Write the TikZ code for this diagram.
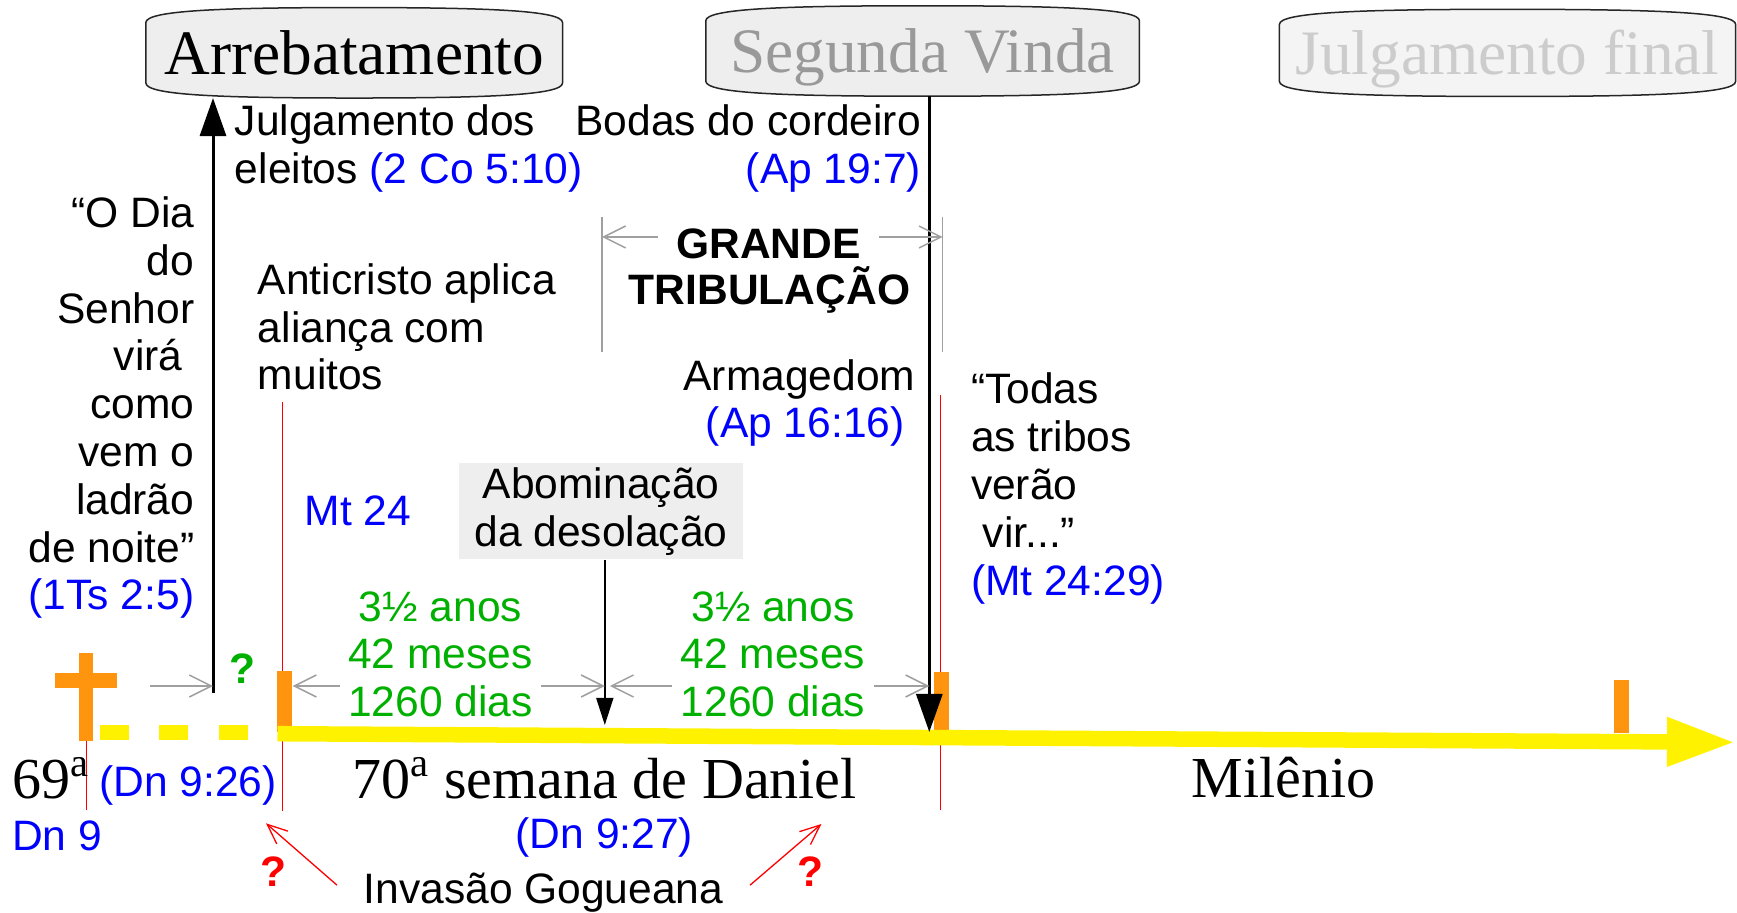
\documentclass[tikz,border=0pt]{standalone}
\usepackage{fontspec}
\setmainfont{Liberation Serif}
\setsansfont{Liberation Sans}
\usepackage{tikz}
\usetikzlibrary{arrows.meta, positioning, calc, backgrounds}

\definecolor{refblue}{RGB}{0,0,255}
\definecolor{spangreen}{RGB}{0,176,0}
\definecolor{tickorange}{RGB}{255,149,14}
\definecolor{boxfill}{RGB}{238,238,238}
\definecolor{finalfill}{RGB}{244,244,244}
\definecolor{vindagray}{RGB}{153,153,153}
\definecolor{finalgray}{RGB}{204,204,204}
\definecolor{dimgray}{RGB}{160,160,160}

\begin{document}
\begin{tikzpicture}[
    x=0.01cm, y=-0.01cm,
    event/.style={rectangle, inner sep=0pt, minimum height=0.89cm, text height=0.437cm, text depth=0pt, font=\rmfamily\fontsize{18}{20}\selectfont},
    evline/.style={draw=black!85, line width=0.015cm},
    note/.style={inner sep=0pt, font=\sffamily\fontsize{12.1}{13.6}\selectfont},
    bold/.style={note, font=\sffamily\bfseries\fontsize{12.1}{13.6}\selectfont},
    ref/.style={note, text=refblue},
    span/.style={note, inner xsep=0.08cm, text=spangreen, align=center, anchor=base},
    serif/.style={inner sep=0pt, anchor=base west, font=\rmfamily\fontsize{16.5}{18}\selectfont},
    tick/.style={rectangle, fill=tickorange, inner sep=0pt, minimum width=0.15cm},
    dim/.style={draw=dimgray, line width=0.015cm, -{Straight Barb[length=0.22cm, width=0.22cm]}},
    bigarrow/.style={draw=black, line width=0.03cm, -{Triangle[length=0.38cm, width=0.26cm]}},
    redline/.style={draw=red, line width=0.013cm},
    redarrow/.style={redline, -{Straight Barb[length=0.2cm, width=0.17cm]}}
]
    \useasboundingbox (0,0) rectangle (1737,913);

    % Events (top)
    \node (arreb) [event, minimum width=4.15cm] at (354.2,52.8) {Arrebatamento};
    \node (vinda) [event, minimum width=4.32cm, text=vindagray] at (922.6,51) {Segunda Vinda};
    \node (final) [event, minimum width=4.545cm, minimum height=0.857cm, text=finalgray] at (1507.5,52.9) {Julgamento final};

    \begin{scope}[on background layer]
    \foreach \b/\f in {arreb/boxfill, vinda/boxfill, final/finalfill}
        \draw[evline, fill=\f] ($(\b.north west)+(0,15)$)
            .. controls ($(\b.north west)+(0,3)$) and ($(\b.north west)!0.35!(\b.north)$) .. (\b.north)
            .. controls ($(\b.north east)!0.35!(\b.north)$) and ($(\b.north east)+(0,3)$) .. ($(\b.north east)+(0,15)$)
            -- ($(\b.south east)+(0,-15)$)
            .. controls ($(\b.south east)+(0,-3)$) and ($(\b.south east)!0.35!(\b.south)$) .. (\b.south)
            .. controls ($(\b.south west)!0.35!(\b.south)$) and ($(\b.south west)+(0,-3)$) .. ($(\b.south west)+(0,-15)$)
            -- cycle;
    \end{scope}

    % Red markers
    \foreach \x/\t/\e in {86.5/740/810, 282.8/402/811, 940.8/395/810}
        \draw[redline] (\x,\t) -- (\x,\e);

    % Timeline
    \node (cross) [tick, minimum width=0.143cm, minimum height=0.88cm] at (86.2,696.7) {};
    \node (crossbar) [tick, minimum width=0.623cm, minimum height=0.144cm] at (86.2,680.5) {};
    \node (t70) [tick, minimum height=0.61cm] at (284.5,701.5) {};
    \node (tsv) [tick, minimum height=0.58cm] at (941.75,701) {};
    \node (tend) [tick, minimum height=0.53cm] at (1621.5,706.5) {};

    \draw[yellow, line width=0.15cm, dash pattern=on 0.293cm off 0.302cm] (99.5,732.5) -- (248,732.5);
    \draw[yellow, line width=0.155cm, -{Triangle[length=0.69cm, width=0.45cm]}] (277.5,733.7) -- (1736,742.3);

    \coordinate (rapt) at (213,693);
    \coordinate (sv) at (929.3,732);
    \coordinate (mid) at (604.8,725);
    \coordinate (dimy) at (150,686);

    \draw[bigarrow] (rapt) -- (rapt |- arreb.south);
    \draw[bigarrow] (sv |- vinda.south) -- (sv);

    % Texts (base = last line)
    \node (dia) [note, align=right, anchor=base east] at (195,610) {“O Dia\\do\\Senhor\\virá\kern0.28em\\como\\vem o\\ladrão\\de noite”\\\textcolor{refblue}{(1Ts 2:5)}};
    \node (julg) [note, align=left, anchor=base west] at (234.2,183.3) {Julgamento dos\\eleitos \textcolor{refblue}{(2 Co 5:10)}};
    \node (bodas) [note, align=right, anchor=base east] at (921.6,183.3) {Bodas do cordeiro\\\textcolor{refblue}{(Ap 19:7)}};
    \node (anti) [note, align=left, anchor=base west] at (257.2,390) {Anticristo aplica\\aliança com\\muitos};
    \node (grande) [bold, inner xsep=0.18cm, anchor=base] at (768.5,258.3) {GRANDE};
    \node (tribul) [bold, anchor=base] at (769.5,305) {TRIBULAÇÃO};
    \node (arma) [note, align=right, anchor=base east] at (916,438) {Armagedom\\\textcolor{refblue}{(Ap 16:16)}\kern0.25em};
    \node (todas) [note, align=left, anchor=base west] at (970.3,595) {“Todas\\as tribos\\verão\\\kern0.28em vir...”\\\textcolor{refblue}{(Mt 24:29)}};
    \node (mt) [ref, anchor=base west] at (304.2,526) {Mt 24};
    \node (abom) [note, align=center, fill=boxfill, minimum width=2.838cm, minimum height=0.96cm] at (601.1,511.3) {Abominação\\da desolação};

    \node (span1) [span] at (440.5,716.7) {3½ anos\\42 meses\\1260 dias};
    \node (span2) [span] at (773,716.7) {3½ anos\\42 meses\\1260 dias};
    \node (qgreen) [bold, text=spangreen, anchor=base] at (242,683) {?};

    \node (s69) [serif] at (11.5,798.3) {69\textsuperscript{a}};
    \node (dn926) [ref, anchor=base west] at (98.7,796.7) {(Dn 9:26)};
    \node (dn9) [ref, anchor=base west] at (11.5,850) {Dn 9};
    \node (daniel) [serif] at (351.3,798.3) {70\textsuperscript{a} semana de Daniel};
    \node (dn927) [ref, anchor=base west] at (515,848.3) {(Dn 9:27)};
    \node (mil) [serif] at (1191.2,797.3) {Milênio};

    \node (gog) [note, anchor=base west, inner xsep=0.26cm] at (337,903) {Invasão Gogueana};
    \node (qred1) [bold, text=red, anchor=base] at (273,886.7) {?};
    \node (qred2) [bold, text=red, anchor=base] at (810,886.7) {?};

    % Arrows
    \draw[draw=black, line width=0.015cm, -{Triangle[length=0.27cm, width=0.17cm]}] (abom.south -| mid) -- (mid);

    \draw[dim] (dimy) -- (dimy -| rapt);
    \draw[dim] (span1.west |- dimy) -- (t70.east |- dimy);
    \draw[dim] (span1.east |- dimy) -- (mid |- dimy);
    \draw[dim, shorten >=0.05cm] (span2.west |- dimy) -- (mid |- dimy);
    \draw[dim] (span2.east |- dimy) -- (sv |- dimy);

    \coordinate (gtl) at (602,237);
    \coordinate (gtr) at (942.7,237);
    \draw[dim] (gtl -| grande.west) -- (gtl);
    \draw[dim] (gtr -| grande.east) -- (gtr);
    \draw[dimgray, line width=0.015cm] ($(gtl)+(0,-20)$) -- ($(gtl)+(0,115)$);
    \draw[dimgray, line width=0.015cm] ($(gtr)+(0,-20)$) -- ($(gtr)+(0,115)$);

    \coordinate (inv1) at (266,823.3);
    \coordinate (inv2) at (821.4,824);
    \draw[redarrow] ([yshift=0.07cm]gog.west) -- (inv1);
    \draw[redarrow] ([yshift=0.07cm]gog.east) -- (inv2);

\end{tikzpicture}
\end{document}
